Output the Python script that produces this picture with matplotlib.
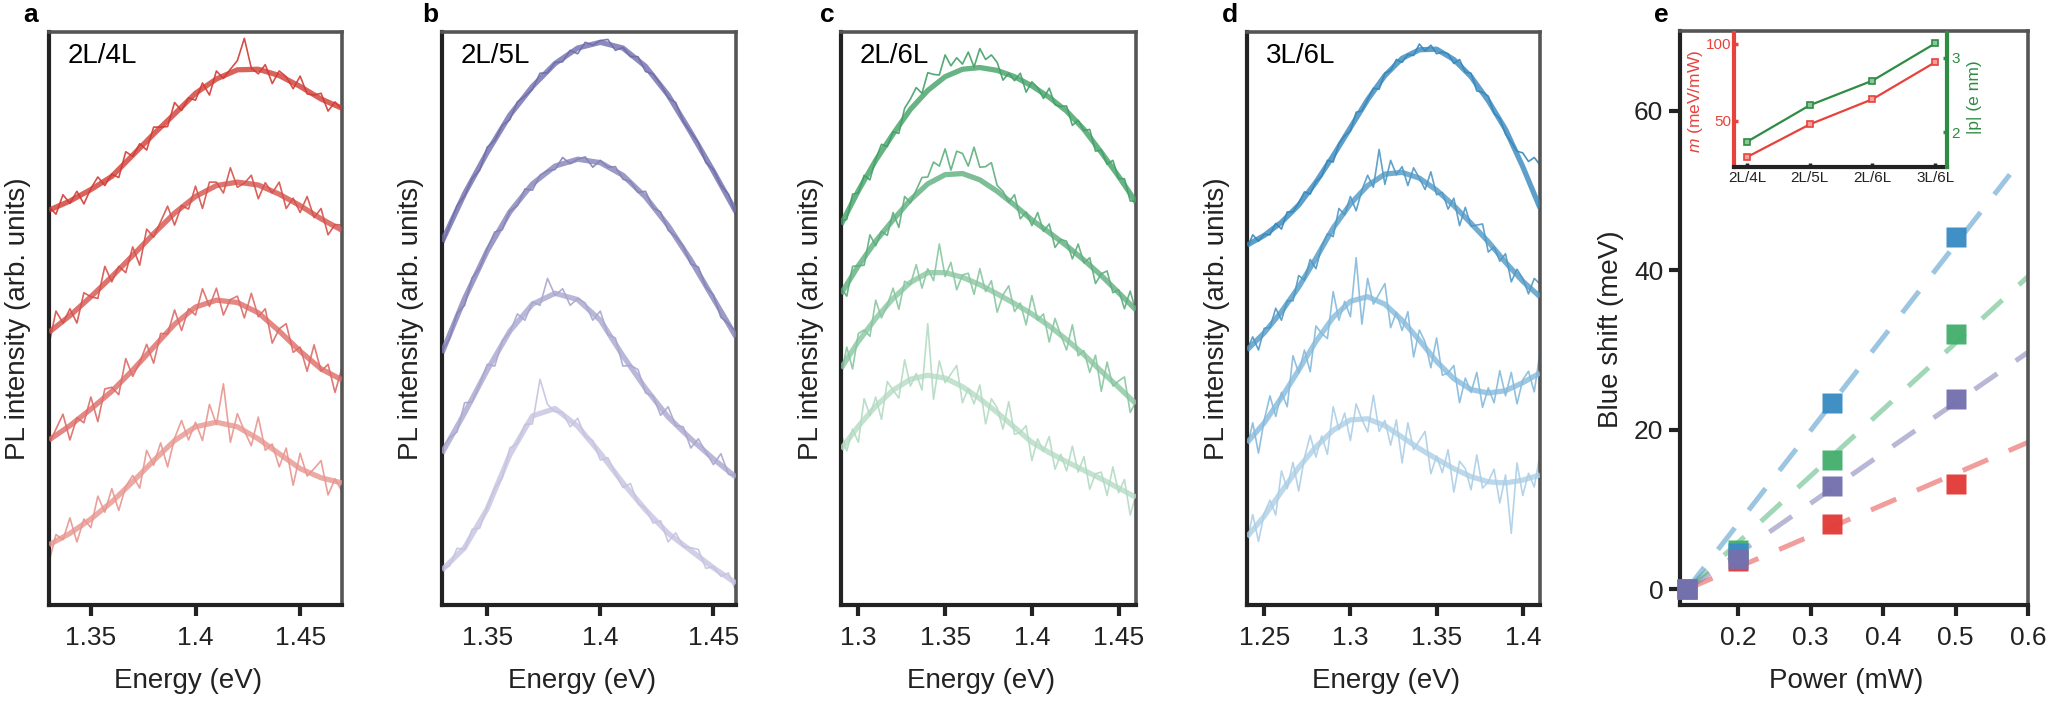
import numpy as np
import matplotlib
matplotlib.use('Agg')
import matplotlib.pyplot as plt

plt.rcParams['font.family'] = ['Liberation Sans', 'DejaVu Sans']
plt.rcParams['mathtext.fontset'] = 'custom'
plt.rcParams['mathtext.it'] = 'Liberation Sans:italic'
plt.rcParams['mathtext.rm'] = 'Liberation Sans'

# ---------------- data: panel a (2L/4L) ----------------
a_E_fit = [1.33, 1.34, 1.35, 1.36, 1.37, 1.38, 1.39, 1.40, 1.41, 1.42, 1.43, 1.44, 1.45, 1.46, 1.47]
a_fit1 = [0.689, 0.705, 0.725, 0.748, 0.785, 0.822, 0.857, 0.893, 0.918, 0.934, 0.935, 0.924, 0.905, 0.883, 0.867]
a_fit2 = [0.476, 0.505, 0.538, 0.573, 0.610, 0.648, 0.684, 0.713, 0.732, 0.738, 0.733, 0.717, 0.697, 0.674, 0.654]
a_fit3 = [0.288, 0.313, 0.342, 0.373, 0.410, 0.450, 0.490, 0.520, 0.532, 0.528, 0.510, 0.478, 0.443, 0.412, 0.393]
a_fit4 = [0.105, 0.125, 0.150, 0.180, 0.215, 0.252, 0.287, 0.311, 0.319, 0.311, 0.290, 0.264, 0.238, 0.222, 0.213]
a_raw1 = [0.695, 0.682, 0.716, 0.701, 0.722, 0.700, 0.727, 0.747, 0.732, 0.752, 0.746, 0.791, 0.783, 0.805, 0.794,
          0.834, 0.834, 0.835, 0.877, 0.863, 0.885, 0.881, 0.911, 0.890, 0.932, 0.919, 0.935, 0.950, 0.989, 0.937,
          0.927, 0.943, 0.910, 0.932, 0.922, 0.901, 0.923, 0.892, 0.890, 0.893, 0.862, 0.878, 0.865]
a_raw2 = [0.455, 0.513, 0.492, 0.517, 0.492, 0.545, 0.538, 0.535, 0.591, 0.564, 0.591, 0.580, 0.625, 0.593, 0.656,
          0.642, 0.669, 0.696, 0.663, 0.697, 0.691, 0.731, 0.692, 0.738, 0.738, 0.719, 0.763, 0.729, 0.736, 0.750,
          0.709, 0.737, 0.719, 0.738, 0.692, 0.710, 0.685, 0.713, 0.676, 0.692, 0.646, 0.664, 0.663]
a_raw3 = [0.281, 0.307, 0.333, 0.288, 0.327, 0.318, 0.363, 0.320, 0.377, 0.380, 0.367, 0.430, 0.399, 0.423, 0.455,
          0.422, 0.474, 0.473, 0.515, 0.479, 0.517, 0.506, 0.552, 0.521, 0.553, 0.506, 0.533, 0.539, 0.501, 0.544,
          0.503, 0.517, 0.457, 0.482, 0.491, 0.441, 0.450, 0.408, 0.454, 0.408, 0.420, 0.371, 0.414]
a_raw4 = [0.075, 0.123, 0.114, 0.152, 0.110, 0.150, 0.135, 0.190, 0.162, 0.203, 0.165, 0.207, 0.226, 0.204, 0.270,
          0.244, 0.283, 0.241, 0.291, 0.322, 0.288, 0.319, 0.287, 0.350, 0.315, 0.386, 0.284, 0.334, 0.304, 0.278,
          0.328, 0.270, 0.281, 0.241, 0.274, 0.209, 0.265, 0.225, 0.238, 0.252, 0.192, 0.220, 0.198]

# ---------------- data: panel b (2L/5L) ----------------
b_E_fit = [1.33, 1.34, 1.35, 1.36, 1.37, 1.38, 1.39, 1.40, 1.41, 1.42, 1.43, 1.44, 1.45, 1.46]
b_fit1 = [0.634, 0.718, 0.790, 0.855, 0.905, 0.945, 0.972, 0.982, 0.972, 0.940, 0.890, 0.825, 0.757, 0.686]
b_fit2 = [0.440, 0.535, 0.618, 0.686, 0.735, 0.766, 0.778, 0.772, 0.750, 0.712, 0.662, 0.602, 0.535, 0.468]
b_fit3 = [0.265, 0.335, 0.410, 0.478, 0.525, 0.544, 0.533, 0.497, 0.435, 0.378, 0.328, 0.290, 0.255, 0.223]
b_fit4 = [0.061, 0.100, 0.168, 0.262, 0.330, 0.343, 0.312, 0.265, 0.213, 0.166, 0.125, 0.095, 0.065, 0.038]
b_raw1 = [0.625, 0.663, 0.697, 0.714, 0.744, 0.759, 0.799, 0.811, 0.837, 0.847, 0.878, 0.888, 0.900, 0.928,
          0.929, 0.947, 0.948, 0.968, 0.962, 0.982, 0.977, 0.985, 0.987, 0.968, 0.973, 0.957, 0.957, 0.931,
          0.927, 0.909, 0.885, 0.877, 0.844, 0.825, 0.807, 0.772, 0.760, 0.732, 0.717, 0.680]
b_raw2 = [0.442, 0.465, 0.509, 0.523, 0.571, 0.588, 0.622, 0.651, 0.655, 0.687, 0.697, 0.726, 0.724, 0.750,
          0.758, 0.760, 0.781, 0.770, 0.778, 0.782, 0.764, 0.776, 0.764, 0.765, 0.743, 0.739, 0.720, 0.722,
          0.693, 0.686, 0.654, 0.643, 0.626, 0.595, 0.590, 0.555, 0.541, 0.502, 0.491, 0.476]
b_raw3 = [0.273, 0.292, 0.302, 0.353, 0.354, 0.385, 0.420, 0.417, 0.461, 0.476, 0.508, 0.497, 0.529, 0.523,
          0.570, 0.540, 0.552, 0.523, 0.535, 0.527, 0.497, 0.513, 0.472, 0.466, 0.417, 0.418, 0.411, 0.370,
          0.365, 0.331, 0.346, 0.313, 0.311, 0.274, 0.290, 0.267, 0.245, 0.264, 0.228, 0.227]
b_raw4 = [0.064, 0.068, 0.099, 0.097, 0.132, 0.134, 0.170, 0.204, 0.222, 0.274, 0.282, 0.315, 0.316, 0.394,
          0.350, 0.337, 0.336, 0.311, 0.326, 0.294, 0.287, 0.253, 0.257, 0.230, 0.205, 0.212, 0.177, 0.169,
          0.143, 0.147, 0.110, 0.126, 0.102, 0.100, 0.097, 0.064, 0.067, 0.050, 0.056, 0.024]

# ---------------- data: panel c (2L/6L) ----------------
c_E_fit = [1.29, 1.30, 1.31, 1.32, 1.33, 1.34, 1.35, 1.36, 1.37, 1.38, 1.39, 1.40, 1.41, 1.42, 1.43, 1.44, 1.45, 1.46]
c_fit1 = [0.664, 0.723, 0.776, 0.822, 0.865, 0.898, 0.922, 0.935, 0.938, 0.933, 0.922, 0.906, 0.886, 0.862, 0.830, 0.790, 0.748, 0.703]
c_fit2 = [0.543, 0.592, 0.635, 0.672, 0.707, 0.735, 0.751, 0.753, 0.742, 0.722, 0.698, 0.672, 0.650, 0.627, 0.602, 0.575, 0.545, 0.515]
c_fit3 = [0.413, 0.460, 0.500, 0.535, 0.563, 0.580, 0.580, 0.572, 0.559, 0.543, 0.526, 0.508, 0.487, 0.463, 0.437, 0.408, 0.380, 0.351]
c_fit4 = [0.272, 0.312, 0.347, 0.375, 0.394, 0.401, 0.396, 0.381, 0.360, 0.336, 0.310, 0.284, 0.266, 0.250, 0.235, 0.220, 0.204, 0.188]
c_raw1 = [0.669, 0.673, 0.717, 0.719, 0.750, 0.742, 0.778, 0.804, 0.800, 0.826, 0.823, 0.867, 0.883, 0.903, 0.893,
          0.929, 0.926, 0.925, 0.960, 0.941, 0.955, 0.944, 0.965, 0.939, 0.971, 0.952, 0.960, 0.947, 0.916, 0.928,
          0.915, 0.928, 0.895, 0.913, 0.903, 0.884, 0.902, 0.873, 0.870, 0.871, 0.837, 0.846, 0.828, 0.830, 0.792,
          0.794, 0.769, 0.776, 0.744, 0.744, 0.705, 0.705]
c_raw2 = [0.553, 0.539, 0.591, 0.592, 0.593, 0.646, 0.627, 0.652, 0.645, 0.685, 0.659, 0.713, 0.702, 0.724, 0.746,
          0.747, 0.773, 0.766, 0.796, 0.759, 0.792, 0.788, 0.766, 0.799, 0.764, 0.765, 0.772, 0.732, 0.722, 0.703,
          0.716, 0.674, 0.686, 0.662, 0.685, 0.652, 0.665, 0.624, 0.638, 0.635, 0.604, 0.630, 0.597, 0.606, 0.561,
          0.578, 0.583, 0.545, 0.550, 0.517, 0.548, 0.512]
c_raw3 = [0.399, 0.450, 0.412, 0.474, 0.480, 0.469, 0.532, 0.501, 0.523, 0.553, 0.516, 0.565, 0.559, 0.594, 0.553,
          0.587, 0.566, 0.630, 0.573, 0.598, 0.550, 0.576, 0.579, 0.542, 0.587, 0.547, 0.566, 0.511, 0.541, 0.557,
          0.512, 0.527, 0.489, 0.540, 0.497, 0.508, 0.459, 0.500, 0.471, 0.445, 0.489, 0.435, 0.444, 0.406, 0.436,
          0.373, 0.424, 0.382, 0.391, 0.398, 0.336, 0.355]
c_raw4 = [0.300, 0.269, 0.307, 0.284, 0.360, 0.331, 0.363, 0.324, 0.390, 0.375, 0.361, 0.428, 0.382, 0.404, 0.375,
          0.491, 0.359, 0.426, 0.388, 0.403, 0.418, 0.353, 0.378, 0.351, 0.384, 0.316, 0.360, 0.344, 0.307, 0.355,
          0.298, 0.301, 0.313, 0.252, 0.290, 0.268, 0.294, 0.237, 0.263, 0.234, 0.277, 0.232, 0.259, 0.202, 0.229,
          0.232, 0.191, 0.241, 0.196, 0.219, 0.157, 0.192]

# ---------------- data: panel d (3L/6L) ----------------
d_E_fit = [1.24, 1.25, 1.26, 1.27, 1.28, 1.29, 1.30, 1.31, 1.32, 1.33, 1.34, 1.35, 1.36, 1.37, 1.38, 1.39, 1.40, 1.41]
d_fit1 = [0.628, 0.645, 0.668, 0.698, 0.738, 0.784, 0.833, 0.882, 0.924, 0.954, 0.969, 0.970, 0.952, 0.922, 0.880, 0.830, 0.765, 0.693]
d_fit2 = [0.445, 0.475, 0.512, 0.555, 0.605, 0.658, 0.700, 0.732, 0.752, 0.755, 0.745, 0.724, 0.697, 0.666, 0.634, 0.598, 0.565, 0.538]
d_fit3 = [0.283, 0.318, 0.362, 0.410, 0.460, 0.502, 0.530, 0.538, 0.525, 0.497, 0.462, 0.425, 0.395, 0.376, 0.370, 0.374, 0.388, 0.405]
d_fit4 = [0.119, 0.155, 0.198, 0.240, 0.276, 0.305, 0.323, 0.325, 0.313, 0.293, 0.273, 0.255, 0.238, 0.224, 0.215, 0.213, 0.218, 0.227]
d_raw1 = [0.622, 0.646, 0.635, 0.647, 0.646, 0.666, 0.656, 0.686, 0.686, 0.702, 0.721, 0.717, 0.739, 0.748, 0.776,
          0.773, 0.805, 0.819, 0.827, 0.860, 0.862, 0.882, 0.902, 0.900, 0.928, 0.933, 0.952, 0.947, 0.961, 0.959,
          0.979, 0.967, 0.977, 0.962, 0.965, 0.962, 0.945, 0.952, 0.930, 0.928, 0.897, 0.895, 0.888, 0.858, 0.849,
          0.822, 0.808, 0.792, 0.789, 0.774, 0.781, 0.768]
d_raw2 = [0.445, 0.468, 0.445, 0.483, 0.484, 0.518, 0.497, 0.531, 0.531, 0.575, 0.567, 0.603, 0.587, 0.626, 0.648,
          0.643, 0.692, 0.681, 0.713, 0.688, 0.724, 0.750, 0.729, 0.795, 0.734, 0.776, 0.751, 0.765, 0.732, 0.763,
          0.745, 0.725, 0.756, 0.716, 0.720, 0.691, 0.710, 0.662, 0.694, 0.661, 0.663, 0.665, 0.616, 0.625, 0.600,
          0.613, 0.564, 0.586, 0.570, 0.543, 0.570, 0.560]
d_raw3 = [0.274, 0.318, 0.265, 0.323, 0.365, 0.329, 0.371, 0.346, 0.435, 0.405, 0.445, 0.407, 0.487, 0.474, 0.465,
          0.547, 0.497, 0.530, 0.503, 0.606, 0.490, 0.570, 0.525, 0.543, 0.561, 0.484, 0.511, 0.479, 0.512, 0.433,
          0.480, 0.459, 0.414, 0.466, 0.401, 0.405, 0.418, 0.353, 0.396, 0.371, 0.406, 0.345, 0.379, 0.353, 0.409,
          0.365, 0.406, 0.351, 0.393, 0.408, 0.372, 0.441]
d_raw4 = [0.110, 0.158, 0.111, 0.160, 0.183, 0.157, 0.234, 0.203, 0.249, 0.199, 0.257, 0.296, 0.258, 0.295, 0.263,
          0.346, 0.306, 0.335, 0.287, 0.351, 0.324, 0.302, 0.366, 0.303, 0.322, 0.279, 0.323, 0.248, 0.318, 0.271,
          0.287, 0.303, 0.229, 0.260, 0.231, 0.271, 0.197, 0.251, 0.238, 0.201, 0.262, 0.204, 0.215, 0.237, 0.178,
          0.227, 0.125, 0.248, 0.191, 0.230, 0.206, 0.263]

# ---------------- data: panel e ----------------
power = [0.13, 0.2, 0.33, 0.5]
shift_2L4L = [0.0, 3.5, 8.2, 13.2]
shift_2L6L = [0.0, 4.9, 16.2, 32.0]
shift_3L6L = [0.0, 4.5, 23.4, 44.1]
shift_2L5L = [0.0, 3.8, 12.9, 23.8]
line_x_2L4L = [0.13, 0.60]; line_y_2L4L = [0.0, 18.4]
line_x_2L6L = [0.13, 0.60]; line_y_2L6L = [0.0, 39.2]
line_x_3L6L = [0.13, 0.575]; line_y_3L6L = [0.0, 52.0]
line_x_2L5L = [0.13, 0.60]; line_y_2L5L = [0.0, 29.7]

inset_labels = ['2L/4L', '2L/5L', '2L/6L', '3L/6L']
m_vals = [26.5, 47.7, 64.0, 88.0]
p_vals = [1.87, 2.36, 2.69, 3.19]

# ---------------- figure ----------------
W, H = 2050, 704
fig = plt.figure(figsize=(W / 100, H / 100), dpi=100)

def rect(l, r, t=32, b=605):
    return [l / W, 1 - b / H, (r - l) / W, (b - t) / H]

DARK = '#222222'
GRAY = '#555555'

def style_frame(ax):
    for s in ['left', 'bottom']:
        ax.spines[s].set_linewidth(3.0)
        ax.spines[s].set_color(DARK)
    for s in ['top', 'right']:
        ax.spines[s].set_linewidth(2.6)
        ax.spines[s].set_color(GRAY)

panels = [
    dict(rect=(49, 342), xlim=(1.33, 1.47), ticks=[1.35, 1.40, 1.45], tl=['1.35', '1.4', '1.45'],
         label='2L/4L', Efit=a_E_fit, fits=[a_fit1, a_fit2, a_fit3, a_fit4],
         raws=[a_raw1, a_raw2, a_raw3, a_raw4], n=43,
         colors=['#d13b34', '#d6514b', '#dd6b66', '#e8958f'], letter='a', lx=23),
    dict(rect=(442, 736), xlim=(1.33, 1.46), ticks=[1.35, 1.40, 1.45], tl=['1.35', '1.4', '1.45'],
         label='2L/5L', Efit=b_E_fit, fits=[b_fit1, b_fit2, b_fit3, b_fit4],
         raws=[b_raw1, b_raw2, b_raw3, b_raw4], n=40,
         colors=['#6f6dab', '#8482b8', '#a9a7cf', '#c5c3e0'], letter='b', lx=422),
    dict(rect=(841, 1136), xlim=(1.29, 1.46), ticks=[1.30, 1.35, 1.40, 1.45], tl=['1.3', '1.35', '1.4', '1.45'],
         label='2L/6L', Efit=c_E_fit, fits=[c_fit1, c_fit2, c_fit3, c_fit4],
         raws=[c_raw1, c_raw2, c_raw3, c_raw4], n=52,
         colors=['#41a066', '#5cae7d', '#88c6a0', '#b4dbc3'], letter='c', lx=820),
    dict(rect=(1247, 1540), xlim=(1.24, 1.41), ticks=[1.25, 1.30, 1.35, 1.40], tl=['1.25', '1.3', '1.35', '1.4'],
         label='3L/6L', Efit=d_E_fit, fits=[d_fit1, d_fit2, d_fit3, d_fit4],
         raws=[d_raw1, d_raw2, d_raw3, d_raw4], n=52,
         colors=['#3587bb', '#4f98c5', '#85badb', '#accfe6'], letter='d', lx=1222),
]

for p in panels:
    l, r = p['rect']
    wpx = r - l
    ax = fig.add_axes(rect(l, r))
    E_raw = np.linspace(p['xlim'][0], p['xlim'][1], p['n'])
    for k in range(3, -1, -1):
        ax.plot(E_raw, p['raws'][k], color=p['colors'][k], lw=1.2, alpha=0.9, zorder=2, clip_on=True)
        ax.plot(p['Efit'], p['fits'][k], color=p['colors'][k], lw=3.8, alpha=0.8, zorder=3,
                solid_capstyle='butt', solid_joinstyle='round')
    ax.set_xlim(*p['xlim'])
    ax.set_ylim(0, 1)
    ax.set_xticks(p['ticks'])
    ax.set_xticklabels(p['tl'])
    ax.set_yticks([])
    ax.tick_params(axis='x', direction='out', length=8, width=3, pad=7, labelsize=19,
                   color=DARK, labelcolor=DARK)
    style_frame(ax)
    ax.set_xlabel('Energy (eV)', fontsize=20, color=DARK)
    ax.xaxis.set_label_coords(0.475, -63 / 573)
    ax.set_ylabel('PL intensity (arb. units)', fontsize=20, color=DARK)
    ax.yaxis.set_label_coords(-17.5 / wpx, 0.5)
    ax.text(19 / wpx, 1 - 11 / 573, p['label'], transform=ax.transAxes, fontsize=20,
            va='top', ha='left', color='black')
    fig.text(p['lx'] / W, 1 - 22 / H, p['letter'], fontsize=19, fontweight='bold',
             va='baseline', ha='left')

# ---------------- panel e ----------------
axe = fig.add_axes(rect(1680, 2028, t=31))
c_red, c_purple, c_green, c_blue = '#e23d39', '#7571ae', '#45b06f', '#3a8cc4'
for lx_, ly_, col in [(line_x_2L4L, line_y_2L4L, c_red), (line_x_2L5L, line_y_2L5L, c_purple),
                      (line_x_2L6L, line_y_2L6L, c_green), (line_x_3L6L, line_y_3L6L, c_blue)]:
    axe.plot(lx_, ly_, color=col, lw=3.6, alpha=0.5, dashes=[5.5, 4.5], zorder=2,
             solid_capstyle='butt', dash_capstyle='butt')
for ys, col in [(shift_2L4L, c_red), (shift_2L6L, c_green), (shift_3L6L, c_blue), (shift_2L5L, c_purple)]:
    axe.plot(power, ys, ls='none', marker='s', ms=15, mfc=col, mec='none', alpha=0.97, zorder=3,
             clip_on=False)
axe.set_xlim(0.12, 0.6)
axe.set_ylim(-2, 70)
axe.set_xticks([0.2, 0.3, 0.4, 0.5, 0.6])
axe.set_xticklabels(['0.2', '0.3', '0.4', '0.5', '0.6'])
axe.set_yticks([0, 20, 40, 60])
axe.tick_params(axis='both', direction='out', length=8, width=3, labelsize=19, color=DARK, labelcolor=DARK)
axe.tick_params(axis='x', pad=7)
axe.tick_params(axis='y', pad=4)
style_frame(axe)
axe.set_xlabel('Power (mW)', fontsize=20, color=DARK)
axe.xaxis.set_label_coords(0.477, -63 / 574)
axe.set_ylabel('Blue shift (meV)', fontsize=20, color=DARK)
axe.yaxis.set_label_coords(-55.5 / 348, 0.481)
fig.text(1654 / W, 1 - 22 / H, 'e', fontsize=19, fontweight='bold', va='baseline', ha='left')

# ---------------- inset ----------------
m_col = '#e8423c'
p_col = '#2f8c43'
axi = fig.add_axes([1734 / W, 1 - 167 / H, (1947 - 1734) / W, 134 / H])
axi.patch.set_alpha(0)
xi = np.arange(len(inset_labels))
axi.plot(xi, m_vals, color=m_col, lw=1.6, marker='s', ms=5, mfc='#f4a09c', mec=m_col, mew=1.2)
axi.set_xlim(-0.21, 3.19)
axi.set_ylim(20, 107)
axi.set_xticks(xi)
axi.set_xticklabels(inset_labels)
axi.set_yticks([50, 100])
axi.tick_params(axis='x', direction='in', length=3, width=2.5, labelsize=11, pad=3, color=DARK, labelcolor=DARK)
axi.tick_params(axis='y', direction='in', length=3, width=2.5, labelsize=11, pad=2, color=m_col, labelcolor=m_col)
axi.spines['top'].set_visible(False)
axi.spines['right'].set_visible(False)
axi.spines['left'].set_color(m_col)
axi.spines['left'].set_linewidth(3)
axi.spines['bottom'].set_color(DARK)
axi.spines['bottom'].set_linewidth(3)
axi.set_ylabel(r'$\it{m}$ (meV/mW)', color=m_col, fontsize=12.5)
axi.yaxis.set_label_coords(-29.0 / 213, 0.49)

axp = axi.twinx()
axp.plot(xi, p_vals, color=p_col, lw=1.6, marker='s', ms=5, mfc='#8cc79a', mec=p_col, mew=1.2)
axp.set_ylim(1.53, 3.33)
axp.set_yticks([2, 3])
axp.tick_params(axis='y', direction='in', length=3, width=2.5, labelsize=11, pad=3, color=p_col, labelcolor=p_col)
for s in ['top', 'left', 'bottom']:
    axp.spines[s].set_visible(False)
axp.spines['right'].set_color(p_col)
axp.spines['right'].set_linewidth(3)
axp.set_ylabel('|p| (e nm)', color=p_col, fontsize=12.5)
axp.yaxis.set_label_coords(1 + 19.5 / 213, 0.52)

fig.savefig('out.png', dpi=100)
